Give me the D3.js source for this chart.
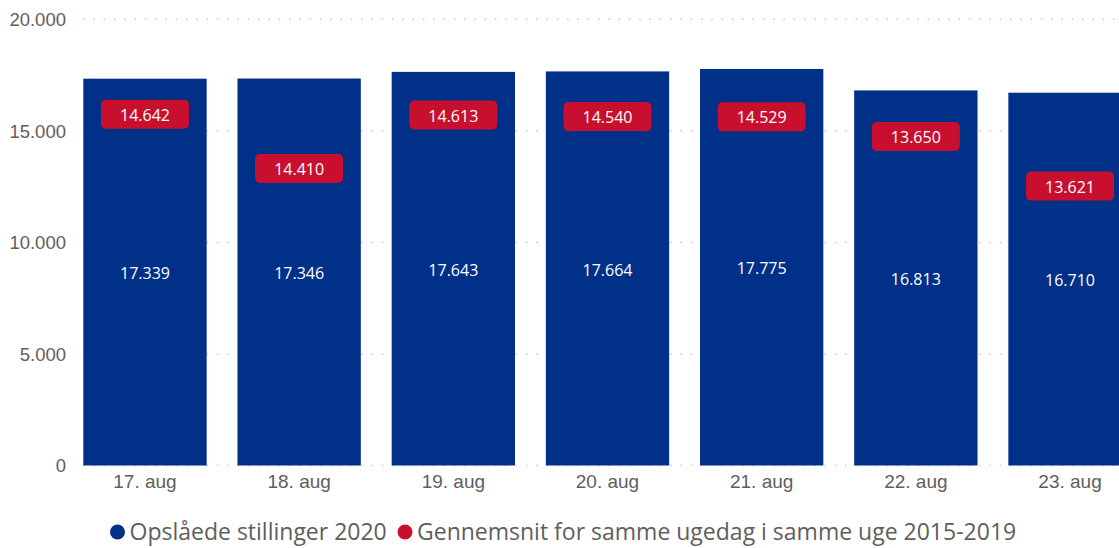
<!DOCTYPE html>
<html>
<head>
<meta charset="utf-8">
<script src="https://cdn.jsdelivr.net/npm/d3@7"></script>
<style>
  html, body { margin: 0; padding: 0; background: #fff; }
  svg { display: block; font-family: "Segoe UI", "Open Sans", "Noto Sans", sans-serif; }
</style>
</head>
<body>
<svg id="chart" width="1119" height="548"></svg>
<script>
const categories = ["17. aug", "18. aug", "19. aug", "20. aug", "21. aug", "22. aug", "23. aug"];
const postings2020 = [17339, 17346, 17643, 17664, 17775, 16813, 16710];
const average2015_2019 = [14642, 14410, 14613, 14540, 14529, 13650, 13621];
const avgLabelSide = ["above", "below", "above", "above", "above", "above", "below"];
const yTicks = [0, 5000, 10000, 15000, 20000];
const seriesNames = ["Opslåede stillinger 2020", "Gennemsnit for samme ugedag i samme uge 2015-2019"];
const seriesColors = ["#003087", "#C8102E"];

const locale = d3.formatLocale({ decimal: ",", thousands: ".", grouping: [3], currency: ["", ""] });
const fmt = locale.format(",d");

const W = 1119, H = 548;
const plotLeft = 83, plotRight = 1119;
const svg = d3.select("#chart");

const x = d3.scaleBand()
  .domain(categories)
  .range([67.9, 1147.1])
  .paddingInner(0.2)
  .paddingOuter(0.1);

const y = d3.scaleLinear().domain([0, 20000]).range([465.5, 19.3]);

// gridlines
svg.append("g").selectAll("line").data(yTicks).join("line")
  .attr("x1", plotLeft).attr("x2", plotRight)
  .attr("y1", d => y(d)).attr("y2", d => y(d))
  .attr("stroke", "#c8c8c8")
  .attr("stroke-width", 1.5)
  .attr("stroke-dasharray", "1.5,8.8");

// y axis
const yAxis = d3.axisLeft(y).tickValues(yTicks).tickFormat(fmt).tickSize(0).tickPadding(0);
const gy = svg.append("g").attr("transform", "translate(66,0)").call(yAxis);
gy.select(".domain").remove();
gy.selectAll("text").attr("fill", "#605E5C").style("font-size", "18.5px")
  .style("font-family", "inherit").attr("dy", "0.35em");

// bars
svg.append("g").selectAll("rect").data(categories).join("rect")
  .attr("x", d => x(d))
  .attr("width", x.bandwidth())
  .attr("y", (d, i) => y(postings2020[i]))
  .attr("height", (d, i) => y(0) - y(postings2020[i]))
  .attr("fill", seriesColors[0]);

// bar value labels
svg.append("g").selectAll("text").data(categories).join("text")
  .attr("x", d => x(d) + x.bandwidth() / 2)
  .attr("y", (d, i) => (y(postings2020[i]) + y(0)) / 2 + 1.5)
  .attr("text-anchor", "middle")
  .attr("dy", "0.35em")
  .attr("fill", "#ffffff")
  .style("font-size", "16px")
  .text((d, i) => fmt(postings2020[i]));

// average labels (red boxes)
const boxW = 88, boxH = 29, offset = 24.5;
const gAvg = svg.append("g").selectAll("g").data(categories).join("g")
  .attr("transform", (d, i) => {
    const cy = y(average2015_2019[i]) + (avgLabelSide[i] === "above" ? -offset : offset);
    return `translate(${x(d) + x.bandwidth() / 2},${cy})`;
  });
gAvg.append("rect")
  .attr("x", -boxW / 2).attr("y", -boxH / 2)
  .attr("width", boxW).attr("height", boxH)
  .attr("rx", 5).attr("ry", 5)
  .attr("fill", seriesColors[1]);
gAvg.append("text")
  .attr("text-anchor", "middle")
  .attr("dy", "0.35em")
  .attr("y", 1)
  .attr("fill", "#ffffff")
  .style("font-size", "16px")
  .text((d, i) => fmt(average2015_2019[i]));

// x axis
const xAxis = d3.axisBottom(x).tickSize(0).tickPadding(0);
const gx = svg.append("g").attr("transform", "translate(0,474)").call(xAxis);
gx.select(".domain").remove();
gx.selectAll("text").attr("fill", "#605E5C").style("font-size", "19px")
  .style("font-family", "inherit").attr("dy", "0.71em");

// legend
const legend = svg.append("g").attr("transform", "translate(0,532)");
const legX = [117.5, 405];
seriesNames.forEach((name, i) => {
  legend.append("circle").attr("cx", legX[i]).attr("cy", 0).attr("r", 7.5).attr("fill", seriesColors[i]);
  legend.append("text").attr("x", legX[i] + 12).attr("y", 0).attr("dy", "0.35em")
    .attr("fill", "#605E5C").style("font-size", "23px").text(name);
});
</script>
</body>
</html>
